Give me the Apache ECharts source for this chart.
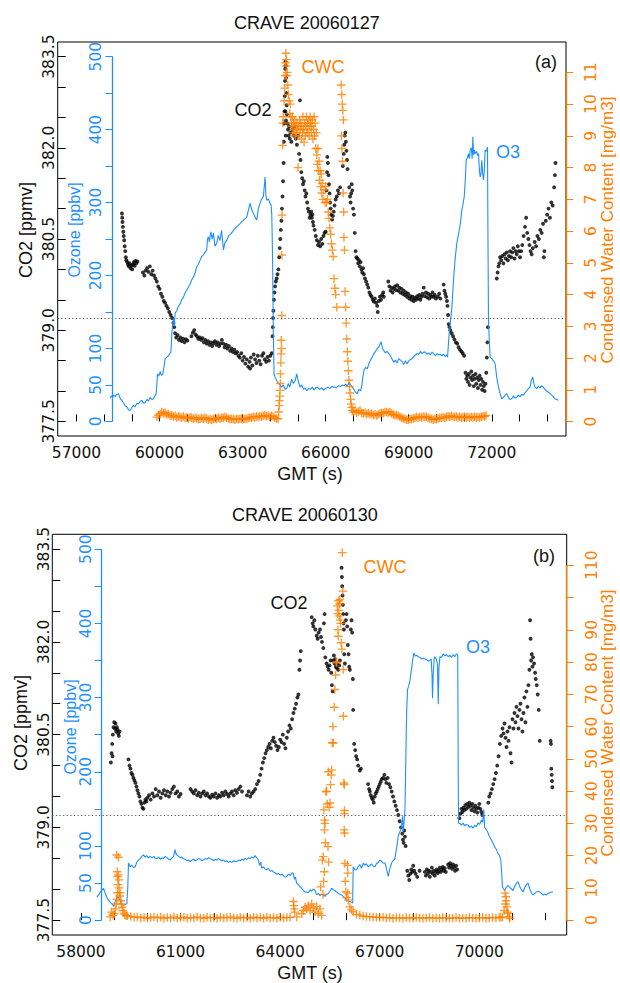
<!DOCTYPE html>
<html><head><meta charset="utf-8">
<script src="https://cdn.jsdelivr.net/npm/echarts@6/dist/echarts.min.js"></script>
<style>html,body{margin:0;padding:0;background:#fff}#c{width:620px;height:983px}</style>
</head><body><div id="c"></div>
<script>
// ---------------- DATA ----------------
// Panel (a) CRAVE 20060127 : [GMT s, value]
const co2A = [[58640,380.92],[58650,380.85],[58660,380.78],[58675,380.70],[58690,380.62],[58705,380.55],[58720,380.48],[58740,380.38],[58760,380.30],[58780,380.20],[58800,380.15],[58830,380.12],[58860,380.08],[58890,380.05],[58920,380.10],[58950,380.02],[58980,380.06],[59010,380.00],[59040,380.08],[59070,380.12],[59100,380.06],[59130,380.14],[59160,380.10],[59200,380.13],
[59400,379.95],[59450,379.90],[59500,379.98],[59550,380.02],[59600,379.96],[59650,380.05],[59700,379.92],[59750,379.98],[59800,379.90],[59850,379.85],[59900,379.80],[59950,379.72],[60000,379.68],[60050,379.60],[60100,379.55],[60150,379.48],[60200,379.45],[60250,379.40],[60300,379.36],[60350,379.30],[60400,379.25],[60450,379.20],[60500,379.12],[60530,379.05],[60560,378.95],[60600,378.88],
[60650,378.92],[60700,378.84],[60750,378.88],[60800,378.82],[60850,378.86],[60900,378.80],[60950,378.85],[61000,378.83],[61150,378.90],[61200,378.96],[61250,379.00],[61300,378.93],[61350,378.90],[61400,378.86],[61450,378.88],[61500,378.84],[61550,378.87],[61600,378.80],[61650,378.84],[61700,378.78],[61750,378.82],[61800,378.76],[61850,378.80],[61900,378.74],[61950,378.79],[62000,378.82],[62050,378.76],[62100,378.80],[62150,378.74],[62200,378.78],[62250,378.84],[62300,378.78],[62350,378.72],[62400,378.76],[62450,378.70],[62500,378.74],[62550,378.66],[62600,378.70],[62650,378.64],[62700,378.68],[62750,378.62],[62800,378.64],[62850,378.58],[62900,378.55],[62950,378.62],[63000,378.50],[63050,378.56],[63100,378.45],[63150,378.52],[63200,378.40],[63250,378.48],[63270,378.37],[63300,378.55],[63350,378.42],[63400,378.60],[63450,378.52],[63500,378.46],[63550,378.58],[63600,378.50],[63650,378.44],[63700,378.58],[63750,378.62],[63800,378.52],[63850,378.48],[63900,378.56],[63950,378.50],[64000,378.58],[64050,378.62],
[64080,378.90],[64090,379.05],[64100,379.20],[64110,379.32],[64130,379.50],[64150,379.62],[64170,379.72],[64200,379.80],[64230,379.85],[64260,379.92],[64290,380.00],[64320,380.20],[64340,380.35],[64360,380.50],[64380,380.65],[64400,380.80],[64420,381.00],[64440,381.20],[64460,381.45],
[64480,381.75],[64490,382.10],[64500,382.40],[64510,382.60],[64520,382.85],[64530,383.10],[64540,383.30],[64550,383.42],[64560,383.35],[64570,383.15],[64580,382.90],[64545,382.60],[64555,382.20],[64565,382.45],[64590,382.70],[64600,382.55],[64620,382.40],[64640,382.30],[64660,382.20],[64680,382.35],[64700,382.15],[64730,382.25],[64760,382.10],[64800,382.30],[64840,382.20],[64880,382.35],[64920,382.15],[64960,382.05],[65000,382.20],[65040,381.90],[65070,382.78],[65090,381.80],[65120,381.60],[65150,381.50],[65180,381.40],[65210,381.45],[65240,381.30],[65270,381.20],[65300,381.25],[65330,381.10],[65360,381.00],[65390,380.95],[65420,380.85],[65450,380.90],
[65480,380.95],[65500,380.85],[65520,380.90],[65540,380.78],[65560,380.72],[65600,380.65],[65640,380.55],[65680,380.48],[65720,380.40],[65760,380.45],[65800,380.38],[65840,380.50],[65880,380.42],[65920,380.55],[65960,380.60],[66000,380.62],[66030,381.30],[66050,381.60],[66060,381.85],[66080,381.75],[66100,381.55],[66120,381.40],[66140,381.25],[66160,381.10],[66180,381.00],[66200,380.90],[66230,380.82],[66260,380.88],[66290,380.95],[66320,381.05],[66360,381.15],[66400,381.20],[66440,381.30],[66480,381.25],[66520,381.35],[66620,381.70],[66650,381.90],[66670,382.05],[66690,382.20],[66710,382.25],[66730,382.10],[66750,381.95],[66770,381.80],[66790,381.65],[66850,381.35],[66880,381.20],[66900,381.10],[66920,381.25],[66940,381.40],[66960,381.30],[66990,381.00],[67020,380.90],[67050,380.60],[67080,380.30],[67110,380.20],
[67140,380.18],[67170,380.10],[67200,380.15],[67230,380.05],[67260,380.12],[67290,380.00],[67320,379.95],[67350,380.02],[67380,379.92],[67420,379.85],[67460,379.80],[67500,379.75],[67540,379.70],[67580,379.62],[67620,379.58],[67660,379.55],[67700,379.50],[67740,379.47],[67780,379.52],[67820,379.45],[67860,379.40],[67880,379.30],[67920,379.48],[67960,379.55],[68000,379.50],[68040,379.58],[68080,379.62],[68100,379.55],
[68260,379.80],[68300,379.72],[68340,379.65],[68380,379.70],[68420,379.62],[68460,379.68],[68500,379.72],[68540,379.66],[68580,379.74],[68620,379.65],[68660,379.70],[68700,379.62],[68740,379.68],[68780,379.60],[68820,379.65],[68860,379.58],[68900,379.62],[68940,379.55],[68980,379.60],[69020,379.52],[69060,379.56],[69100,379.50],[69140,379.55],[69180,379.48],[69220,379.53],[69260,379.50],[69300,379.56],[69340,379.52],[69380,379.58],[69420,379.50],[69460,379.55],[69500,379.60],[69540,379.70],[69580,379.56],[69620,379.62],[69660,379.54],[69700,379.60],[69740,379.52],[69780,379.58],[69820,379.55],[69860,379.62],[69900,379.55],[69940,379.58],[69980,379.52],[70050,379.55],[70100,379.60],[70140,379.52],
[70260,379.75],[70290,379.65],[70320,379.60],[70350,379.55],[70380,379.48],[70400,379.40],[70420,379.25],[70440,379.10],[70470,379.05],[70500,379.00],[70550,378.95],[70600,378.90],[70650,378.85],[70700,378.80],[70750,378.78],[70800,378.72],[70850,378.68],[70900,378.65],[70950,378.62],[71000,378.58],
[71050,378.30],[71080,378.20],[71110,378.25],[71140,378.15],[71170,378.28],[71200,378.10],[71230,378.22],[71260,378.32],[71290,378.18],[71320,378.25],[71350,378.08],[71380,378.20],[71410,378.28],[71440,378.12],[71470,378.22],[71500,378.05],[71530,378.18],[71560,378.25],[71590,378.10],[71620,378.20],[71650,378.02],[71680,378.15],[71710,378.08],[71740,378.00],[71770,378.12],[71800,378.30],[71820,378.55],[71840,378.80],[71860,379.05],
[72180,379.85],[72210,379.95],[72240,380.05],[72270,380.10],[72300,380.20],[72340,380.15],[72380,380.22],[72420,380.10],[72460,380.25],[72500,380.18],[72540,380.28],[72580,380.15],[72620,380.22],[72660,380.30],[72700,380.20],[72740,380.28],[72780,380.35],[72820,380.18],[72860,380.30],[72900,380.25],[72940,380.38],[72980,380.30],[73020,380.20],[73060,380.30],[73100,380.40],
[73150,380.55],[73200,380.70],[73240,380.85],[73280,380.60],[73320,380.50],[73360,380.40],[73400,380.30],[73440,380.25],[73480,380.35],[73550,380.45],[73600,380.38],[73650,380.55],[73700,380.50],[73750,380.65],[73800,380.60],[73850,380.75],[73880,380.20],[73900,380.30],[73950,380.80],[74000,380.90],[74050,381.00],[74100,380.85],[74150,381.10],[74200,381.05],[74250,381.35],[74280,381.55],[74300,381.75]];

const ozoneA = [[58217,32],[58260,35],[58300,33],[58350,36],[58400,34],[58450,37],[58517,38],[58560,33],[58600,30],[58638,29],[58700,25],[58760,21],[58818,20],[58880,16],[58938,15],[59000,19],[59059,22],[59120,20],[59180,25],[59239,24],[59300,27],[59359,29],[59420,25],[59480,26],[59540,30],[59600,28],[59660,33],[59720,30],[59780,31],[59830,35],[59877,38],[59900,50],[59925,65],[59970,62],[60021,68],[60070,63],[60117,65],[60160,75],[60201,86],[60260,88],[60322,90],[60370,93],[60406,95],[60425,105],[60442,120],[60470,132],[60502,141],[60530,132],[60562,148],[60620,152],[60680,158],[60743,161],[60800,167],[60860,170],[60920,176],[60983,180],[61040,184],[61100,188],[61160,194],[61224,198],[61280,203],[61340,212],[61400,215],[61465,221],[61520,226],[61580,228],[61640,232],[61705,235],[61730,250],[61765,253],[61800,246],[61850,260],[61900,250],[61946,258],[62000,240],[62066,244],[62120,255],[62186,248],[62240,262],[62307,235],[62360,245],[62427,248],[62500,255],[62580,257],[62668,262],[62740,265],[62820,268],[62908,271],[62980,274],[63060,277],[63149,280],[63210,290],[63269,299],[63330,290],[63389,285],[63450,280],[63510,276],[63570,292],[63630,299],[63690,305],[63750,308],[63780,322],[63810,335],[63840,310],[63871,303],[63930,305],[63991,299],[64030,296],[64051,285],[64070,250],[64087,203],[64110,120],[64135,65],[64180,60],[64231,56],[64300,52],[64350,50],[64412,47],[64470,50],[64530,44],[64592,45],[64650,52],[64700,47],[64772,58],[64833,52],[64900,56],[64953,65],[65010,55],[65073,47],[65130,50],[65200,44],[65260,46],[65314,42],[65380,45],[65450,44],[65520,47],[65580,43],[65640,46],[65700,47],[65780,44],[65850,46],[65920,43],[66000,45],[66080,47],[66150,45],[66220,48],[66300,47],[66380,46],[66460,49],[66540,48],[66600,50],[66660,49],[66720,51],[66780,48],[66840,54],[66900,50],[66960,47],[67020,44],[67080,40],[67140,38],[67200,44],[67260,42],[67300,48],[67340,60],[67380,70],[67440,74],[67500,72],[67560,79],[67620,84],[67680,88],[67740,93],[67800,96],[67860,100],[67920,102],[67960,106],[68004,109],[68050,100],[68100,97],[68160,94],[68220,96],[68280,93],[68340,90],[68400,85],[68460,81],[68520,84],[68580,80],[68640,86],[68700,84],[68760,82],[68820,78],[68880,83],[68940,79],[69000,83],[69060,85],[69120,86],[69180,89],[69240,91],[69300,93],[69360,92],[69420,96],[69480,93],[69540,95],[69600,95],[69660,92],[69720,94],[69780,91],[69840,95],[69900,93],[69960,90],[70020,93],[70080,91],[70140,92],[70200,90],[70260,92],[70320,89],[70380,91],[70404,88],[70440,111],[70500,135],[70560,157],[70620,195],[70680,225],[70740,245],[70800,257],[70860,270],[70920,290],[70960,298],[71004,308],[71040,330],[71076,358],[71120,362],[71160,367],[71190,360],[71220,372],[71260,375],[71290,360],[71316,390],[71340,365],[71370,372],[71400,367],[71450,370],[71500,364],[71520,367],[71550,345],[71580,335],[71610,340],[71640,358],[71670,340],[71700,331],[71730,345],[71760,372],[71800,370],[71844,376],[71860,260],[71880,139],[71910,110],[71940,88],[72000,86],[72060,83],[72120,79],[72180,60],[72240,47],[72300,38],[72360,31],[72420,33],[72480,36],[72540,38],[72600,33],[72660,30],[72720,31],[72780,35],[72840,32],[72900,33],[72960,36],[73020,34],[73080,37],[73140,36],[73200,39],[73260,42],[73320,45],[73380,47],[73420,55],[73476,61],[73520,52],[73560,47],[73620,45],[73680,48],[73740,46],[73800,49],[73860,47],[73920,44],[73980,42],[74040,40],[74100,38],[74160,36],[74220,34],[74280,31],[74340,30],[74400,29]];

const cwcA = [[59900,0.14],[59960,0.20],[60020,0.24],[60080,0.30],[60140,0.26],[60200,0.28],[60260,0.22],[60320,0.24],[60380,0.18],[60440,0.20],[60500,0.16],[60560,0.18],[60620,0.13],[60680,0.17],[60740,0.14],[60800,0.12],[60860,0.16],[60920,0.11],[60980,0.13],[61040,0.10],[61100,0.14],[61160,0.12],[61220,0.09],[61280,0.12],[61340,0.10],[61400,0.07],[61460,0.09],[61520,0.11],[61580,0.08],[61640,0.12],[61700,0.10],[61760,0.06],[61820,0.08],[61880,0.05],[61940,0.07],[62000,0.10],[62060,0.08],[62120,0.12],[62180,0.09],[62240,0.13],[62300,0.11],[62360,0.15],[62420,0.12],[62480,0.10],[62540,0.07],[62600,0.09],[62660,0.08],[62720,0.06],[62780,0.09],[62840,0.07],[62900,0.08],[62960,0.10],[63020,0.07],[63080,0.09],[63140,0.08],[63200,0.11],[63260,0.13],[63320,0.12],[63380,0.15],[63440,0.13],[63500,0.16],[63560,0.14],[63620,0.17],[63680,0.15],[63740,0.18],[63800,0.20],[63860,0.17],[63920,0.19],[63980,0.15],[64040,0.18],[64100,0.16],[64160,0.12],[64220,0.10],[64280,0.08],
[64300,0.30],[64320,0.50],[64330,0.66],[64340,0.80],[64350,0.98],[64360,1.20],[64365,1.50],[64380,1.85],[64390,2.13],[64395,2.56],[64405,2.30],[64412,3.34],[64415,5.24],[64424,6.50],[64440,8.70],[64450,9.40],[64470,9.60],[64500,10.10],[64520,10.50],[64540,10.90],[64550,11.30],[64560,11.60],[64570,11.20],[64580,11.40],[64590,10.90],[64610,11.00],[64630,10.60],[64650,10.30],[64680,10.10],[64700,9.70],[64720,10.00],[64740,9.60],[64760,9.40],[64780,9.30],[64800,9.60],[64820,9.10],[64840,9.40],[64860,9.20],[64880,9.50],[64900,9.00],[64920,9.30],[64940,9.10],[64960,9.40],[64980,9.20],[65000,8.00],[65020,9.30],[65040,9.00],[65060,9.50],[65080,9.20],[65100,9.40],[65120,8.90],[65140,9.30],[65160,9.10],[65180,9.60],[65200,9.20],[65220,8.80],[65240,9.40],[65260,9.00],[65280,9.30],[65300,9.60],[65320,9.10],[65340,9.40],[65360,9.20],[65380,9.50],[65400,9.00],[65420,9.30],[65440,9.60],[65460,9.40],[65480,9.10],[65500,9.30],[65520,9.50],[65540,8.90],[65560,9.20],[65580,9.60],[65600,9.00],[65620,9.40],[65640,8.60],[65660,9.10],[65680,8.40],[65700,8.10],[65720,8.60],[65740,7.90],[65760,8.20],[65780,7.60],[65800,7.90],[65820,7.40],[65840,7.80],[65860,7.20],[65880,7.50],[65900,7.00],[65940,7.30],[65980,6.90],[66000,7.40],[66030,6.90],[66060,7.00],[66090,6.60],[66120,6.40],[66150,6.10],[66180,5.90],[66210,5.60],[66240,5.40],[66270,5.20],[66300,4.50],[66330,4.20],[66360,4.00],[66400,3.60],
[66560,10.60],[66580,10.30],[66600,10.00],[66620,9.80],[66640,9.50],[66570,9.00],[66590,8.60],[66610,8.20],[66630,7.20],[66650,6.60],[66660,5.80],[66680,5.40],[66700,4.10],[66720,3.60],[66740,3.10],[66760,2.60],[66780,2.20],[66800,1.90],[66820,1.60],[66840,1.30],[66860,1.10],[66880,0.90],[66900,0.70],[66920,0.55],[66940,0.45],[66960,0.35],
[67000,0.30],[67060,0.33],[67120,0.28],[67180,0.32],[67240,0.35],[67300,0.27],[67360,0.25],[67420,0.28],[67480,0.24],[67540,0.26],[67600,0.22],[67660,0.25],[67720,0.20],[67780,0.23],[67840,0.19],[67900,0.22],[67960,0.25],[68020,0.28],[68080,0.26],[68140,0.29],[68200,0.31],[68260,0.28],[68320,0.30],[68380,0.25],[68440,0.22],[68500,0.19],[68560,0.21],[68620,0.18],[68680,0.15],[68740,0.12],[68800,0.10],[68860,0.08],[68920,0.06],[68980,0.05],[69040,0.08],[69100,0.07],[69160,0.10],[69220,0.12],[69280,0.14],[69340,0.12],[69400,0.15],[69460,0.13],[69520,0.16],[69580,0.14],[69640,0.15],[69700,0.12],[69760,0.10],[69820,0.08],[69880,0.06],[69940,0.08],[70000,0.07],[70060,0.10],[70120,0.12],[70180,0.11],[70240,0.14],[70300,0.12],[70360,0.15],[70420,0.17],[70480,0.15],[70540,0.18],[70600,0.16],[70660,0.14],[70720,0.16],[70780,0.13],[70840,0.15],[70900,0.12],[70960,0.14],[71020,0.16],[71080,0.13],[71140,0.15],[71200,0.12],[71260,0.14],[71320,0.13],[71380,0.15],[71440,0.12],[71500,0.14],[71560,0.13],[71620,0.15],[71680,0.17],[71740,0.16],[71790,0.19]];

// Panel (b) CRAVE 20060130
const co2B = [[58900,380.05],[58920,380.20],[58940,380.35],[58950,380.15],[58960,380.50],[58980,380.62],[59000,380.70],[59020,380.60],[59040,380.68],[59060,380.55],[59080,380.62],[59100,380.58],[59120,380.52],[59140,380.48],[59160,380.55],
[59430,380.10],[59460,380.00],[59490,379.95],[59520,379.88],[59550,379.85],[59580,379.80],[59610,379.76],[59640,379.72],[59670,379.66],[59700,379.60],[59730,379.55],[59760,379.50],[59790,379.42],[59820,379.38],[59850,379.32],[59880,379.30],[59910,379.40],[59940,379.45],[59970,379.42],[60000,379.48],[60050,379.52],[60100,379.45],[60150,379.55],[60200,379.50],[60250,379.62],[60300,379.52],[60350,379.58],[60400,379.48],[60450,379.55],[60500,379.60],[60550,379.52],[60600,379.58],[60650,379.50],[60700,379.56],[60750,379.62],[60800,379.66],[60850,379.55],[60900,379.58],[60950,379.50],[61000,379.54],
[61300,379.62],[61350,379.58],[61400,379.55],[61450,379.60],[61500,379.52],[61550,379.56],[61600,379.50],[61650,379.55],[61700,379.58],[61750,379.52],[61800,379.55],[61850,379.50],[61900,379.48],[61950,379.53],[62000,379.50],[62050,379.55],[62100,379.48],[62150,379.52],[62200,379.50],[62250,379.56],[62300,379.52],[62350,379.58],[62400,379.54],[62450,379.50],[62500,379.55],[62550,379.58],[62600,379.52],[62650,379.60],[62700,379.56],[62750,379.62],[62800,379.66],[62850,379.58],
[63000,379.52],[63050,379.58],[63100,379.50],[63150,379.55],[63200,379.58],[63250,379.62],[63300,379.70],[63350,379.75],[63400,379.85],[63440,379.95],[63480,380.05],[63520,380.12],[63560,380.20],[63600,380.25],[63640,380.30],[63680,380.35],[63720,380.28],[63760,380.40],[63800,380.45],[63840,380.38],[63880,380.32],[63920,380.25],[63960,380.30],[64000,380.42],[64040,380.38],[64080,380.50],[64120,380.35],[64160,380.28],[64200,380.45],[64240,380.55],[64280,380.65],[64320,380.60],[64360,380.75],[64400,380.85],[64440,380.92],[64480,381.00],[64520,381.10],[64550,381.15],[64580,381.55],[64600,381.70],[64620,381.85],
[64950,382.40],[64980,382.30],[65000,382.25],[65030,382.35],[65060,382.20],[65100,382.10],[65130,382.05],[65160,382.15],[65200,382.20],[65230,382.08],[65260,382.00],[65300,381.90],[65320,382.30],[65340,382.45],[65360,381.75],[65400,381.65],[65430,381.60],[65460,381.55],[65490,381.62],[65520,381.70],[65540,381.50],[65560,381.30],[65580,381.20],[65600,381.70],[65620,381.78],[65640,381.65],[65660,381.72],[65680,381.60],[65700,381.58],[65720,381.65],[65750,381.55],[65780,381.62],[65800,381.70],
[65850,383.20],[65860,383.05],[65870,382.90],[65880,382.75],[65890,382.60],[65900,382.45],[65910,382.30],[65920,382.20],[65930,381.80],[65950,381.65],[65980,382.35],[66000,382.45],[66020,382.25],[66040,381.95],[66060,381.80],[66080,381.60],[66100,381.55],[66130,382.20],[66150,382.35],[66170,382.15],[66190,381.40],[66200,380.90],[66230,380.35],[66260,380.25],[66290,380.15],[66320,380.10],[66350,380.00],[66400,379.92],[66430,379.95],
[66650,379.70],[66680,379.62],[66700,379.58],[66730,379.52],[66760,379.48],[66790,379.45],[66820,379.40],[66850,379.50],[66880,379.55],[66910,379.58],[66940,379.62],[66970,379.66],[67000,379.70],[67030,379.74],[67060,379.78],[67100,379.80],[67140,379.85],[67170,379.78],[67200,379.72],[67240,379.80],[67280,379.70],[67320,379.65],[67360,379.58],[67400,379.50],[67440,379.42],[67480,379.35],[67520,379.28],[67560,379.20],[67600,379.10],[67640,379.00],[67680,378.90],[67700,378.80],[67720,378.75],[67740,378.95],[67760,378.85],[67780,378.70],
[67830,378.30],[67860,378.22],[67890,378.15],[67920,378.25],[67950,378.32],[67980,378.28],[68010,378.38],[68040,378.30],[68080,378.25],[68130,378.20],[68200,378.30],[68360,378.28],[68390,378.22],[68420,378.32],[68450,378.25],[68480,378.30],[68510,378.20],[68540,378.28],[68570,378.35],[68600,378.25],[68630,378.30],[68660,378.22],[68690,378.28],[68720,378.32],[68750,378.26],[68780,378.30],[68810,378.35],[68840,378.28],[68870,378.32],[68900,378.36],[68930,378.30],[68960,378.34],[68990,378.28],[69060,378.40],[69090,378.35],[69120,378.42],[69150,378.38],[69180,378.33],[69210,378.40],[69240,378.36],[69270,378.30],[69300,378.38],[69330,378.32],
[69400,379.15],[69430,379.22],[69460,379.30],[69490,379.25],[69520,379.32],[69550,379.28],[69580,379.36],[69610,379.30],[69640,379.38],[69670,379.33],[69700,379.40],[69730,379.35],[69760,379.28],[69790,379.38],[69820,379.32],[69850,379.26],[69880,379.35],[69910,379.30],[69940,379.24],[69970,379.32],[70000,379.38],[70030,379.30],[70060,379.25],[70090,379.20],
[70270,379.40],[70300,379.50],[70340,379.55],[70380,379.62],[70420,379.70],[70460,379.78],[70500,379.88],[70540,380.00],[70580,380.15],[70620,380.35],[70660,380.48],[70700,380.60],[70730,380.52],[70760,380.68],[70790,380.45],[70820,380.30],[70850,380.55],[70880,380.40],[70910,380.62],[70940,380.20],[70970,380.05],[71000,380.75],[71030,380.60],[71060,380.85],[71090,380.70],[71120,380.95],[71150,380.80],[71180,380.60],[71210,380.90],[71240,381.00],[71270,380.75],[71300,380.55],[71330,380.85],[71360,381.10],[71390,380.70],[71420,381.20],[71450,380.95],[71480,381.30],[71510,381.55],[71530,382.35],[71545,382.05],[71560,381.70],[71580,381.80],[71600,381.60],[71620,381.75],[71650,381.65],[71680,381.50],[71700,381.40],[71730,381.30],[71760,381.15],[71790,380.90],[71820,380.40],
[72150,380.40],[72160,380.35],[72170,379.95],[72180,379.85],[72190,379.75],[72200,379.65]];

const ozoneB = [[58480,31],[58530,34],[58580,38],[58629,40],[58679,43],[58730,36],[58779,31],[58830,27],[58880,24],[58930,22],[58980,19],[59030,25],[59080,30],[59130,31],[59180,26],[59230,22],[59281,20],[59330,21],[59381,22],[59410,45],[59431,77],[59481,72],[59530,74],[59580,71],[59631,72],[59680,78],[59730,81],[59782,83],[59830,86],[59882,88],[59930,85],[59980,87],[60030,84],[60083,86],[60140,84],[60200,86],[60240,83],[60284,83],[60340,85],[60400,82],[60440,84],[60484,83],[60540,86],[60600,84],[60640,82],[60685,81],[60740,84],[60790,86],[60836,95],[60860,90],[60886,88],[60940,86],[61000,84],[61040,85],[61086,83],[61140,82],[61200,80],[61240,81],[61287,79],[61340,81],[61400,82],[61440,80],[61487,81],[61540,83],[61600,82],[61640,80],[61688,81],[61740,83],[61800,82],[61840,84],[61889,83],[61940,82],[62000,80],[62040,82],[62089,81],[62140,83],[62200,81],[62240,80],[62290,81],[62340,79],[62400,80],[62440,78],[62491,79],[62540,78],[62600,80],[62640,79],[62691,79],[62740,81],[62800,80],[62840,82],[62892,81],[62940,83],[63000,82],[63050,84],[63093,83],[63140,85],[63200,84],[63243,87],[63300,84],[63343,81],[63380,74],[63420,78],[63444,70],[63500,72],[63540,69],[63594,68],[63640,70],[63700,66],[63750,67],[63795,65],[63850,64],[63900,62],[63950,63],[63995,61],[64050,62],[64100,60],[64150,58],[64196,59],[64250,62],[64300,60],[64350,64],[64396,63],[64430,55],[64460,58],[64497,50],[64550,48],[64600,45],[64647,43],[64700,40],[64750,38],[64797,38],[64850,37],[64900,41],[64950,39],[65000,42],[65050,40],[65100,34],[65150,36],[65200,33],[65250,35],[65301,34],[65350,32],[65400,35],[65451,36],[65500,39],[65552,43],[65600,41],[65650,40],[65702,38],[65750,36],[65800,35],[65853,34],[65900,32],[65950,30],[66003,27],[66050,26],[66100,25],[66150,24],[66184,23],[66200,72],[66250,68],[66304,68],[66350,72],[66400,75],[66450,70],[66505,77],[66550,74],[66600,76],[66650,72],[66706,74],[66750,76],[66800,73],[66856,72],[66900,76],[66960,78],[67006,81],[67060,79],[67100,77],[67156,77],[67200,70],[67257,59],[67300,68],[67357,77],[67400,80],[67457,83],[67500,95],[67557,113],[67600,118],[67628,122],[67660,128],[67688,140],[67710,120],[67738,135],[67760,150],[67788,221],[67810,280],[67838,311],[67870,315],[67909,322],[67930,330],[67959,338],[67990,350],[68030,360],[68070,356],[68110,357],[68160,355],[68210,354],[68260,352],[68311,353],[68360,352],[68410,351],[68460,349],[68511,350],[68550,352],[68575,330],[68591,299],[68610,330],[68640,352],[68662,355],[68700,352],[68740,345],[68762,291],[68785,340],[68812,355],[68860,354],[68912,359],[68960,356],[69010,358],[69060,355],[69113,357],[69160,354],[69210,358],[69260,355],[69313,359],[69350,357],[69365,200],[69373,131],[69420,130],[69470,128],[69514,131],[69560,127],[69600,129],[69664,128],[69710,125],[69760,127],[69814,124],[69860,128],[69910,126],[69965,131],[70010,129],[70065,135],[70100,132],[70135,149],[70160,125],[70216,122],[70260,118],[70300,113],[70366,108],[70420,103],[70470,98],[70517,95],[70560,90],[70600,88],[70617,86],[70650,80],[70680,60],[70697,45],[70730,42],[70767,40],[70810,44],[70868,47],[70920,44],[70970,42],[71018,40],[71070,46],[71120,50],[71168,52],[71220,45],[71270,41],[71319,38],[71370,44],[71420,48],[71470,50],[71520,42],[71570,37],[71620,34],[71670,36],[71720,38],[71770,39],[71820,38],[71870,36],[71920,34],[71970,35],[72021,34],[72070,36],[72120,37],[72170,38],[72222,38]];

const cwcB = [[58880,1.0],[58920,2.5],[58960,1.5],[59000,2.0],[59030,3.5],[59060,5.0],[59076,20.2],[59080,6.5],[59090,15.0],[59095,13.5],[59100,8.5],[59110,11.0],[59120,14.0],[59130,19.5],[59140,12.5],[59150,10.0],[59160,7.5],[59180,8.5],[59200,6.0],[59220,5.0],[59240,4.0],[59260,3.0],[59290,2.2],[59320,1.7],[59360,1.4],
[59400,1.4],[59500,1.1],[59600,0.9],[59700,1.0],[59800,0.7],[59900,0.9],[60000,0.6],[60100,0.8],[60200,1.0],[60300,0.7],[60400,0.9],[60500,0.6],[60600,0.8],[60700,0.7],[60800,1.0],[60900,0.6],[61000,0.8],[61100,0.9],[61200,0.6],[61300,0.8],[61400,0.7],[61500,1.0],[61600,0.7],[61700,0.6],[61800,0.9],[61900,0.7],[62000,0.8],[62100,0.6],[62200,0.9],[62300,0.7],[62400,0.8],[62500,1.0],[62600,0.7],[62700,0.6],[62800,0.9],[62900,0.7],[63000,0.8],[63100,0.6],[63200,0.9],[63300,0.7],[63400,0.8],[63500,0.6],[63600,0.9],[63700,0.7],[63800,0.8],[63900,0.6],[64000,0.9],[64100,0.7],[64200,0.8],[64300,0.9],
[64400,5.8],[64410,4.5],[64420,3.5],[64440,2.5],[64500,1.0],[64650,2.0],[64700,3.0],[64750,4.0],[64800,3.5],[64850,4.5],[64900,3.0],[64950,5.0],[65000,3.8],[65050,2.5],[65100,4.2],[65150,2.0],[65200,3.5],[65250,1.5],
[65220,10.3],[65270,18.6],[65290,8.0],[65300,19.7],[65310,12.0],[65320,34.2],[65330,15.0],[65335,28.0],[65340,31.0],[65350,30.0],[65360,24.0],[65380,39.8],[65400,40.0],[65420,36.0],[65440,22.8],[65450,46.0],[65460,18.0],[65480,35.0],[65500,36.3],[65520,42.0],[65540,45.0],[65550,46.6],[65570,55.0],[65590,60.0],[65600,54.9],[65630,66.0],[65650,71.5],[65670,76.0],[65690,80.0],[65700,79.8],[65720,97.4],[65730,95.0],[65740,90.0],[65750,88.0],[65760,99.0],[65770,96.0],[65780,94.3],[65790,98.0],[65800,99.4],[65810,93.0],[65820,92.0],[65840,86.0],[65860,84.0],[65872,113.9],[65890,102.0],[65900,77.7],[65905,63.2],[65920,42.5],[65930,28.0],[65932,42.0],[65935,33.0],[65938,27.0],[65940,34.0],[65950,17.6],[65960,12.0],[65980,8.8],[66000,7.0],[66030,17.0],[66035,14.6],[66040,8.4],[66050,6.2],[66100,4.1],[66150,3.2],[66200,2.6],[66300,1.8],[66400,1.55],[66500,1.3],[66600,1.1],[66700,1.0],
[66800,1.0],[66900,0.9],[67000,0.8],[67100,0.9],[67200,0.7],[67300,0.8],[67400,0.6],[67500,0.8],[67600,0.7],[67700,0.6],[67800,0.8],[67900,0.7],[68000,0.6],[68100,0.8],[68200,0.7],[68300,0.6],[68400,0.7],[68500,0.8],[68600,0.6],[68700,0.7],[68800,0.6],[68900,0.8],[69000,0.7],[69100,0.6],[69200,0.7],[69300,0.8],[69400,0.6],[69500,0.7],[69600,0.6],[69700,0.8],[69800,0.7],[69900,0.6],[70000,0.7],[70100,0.8],[70200,0.6],[70300,0.7],[70400,0.8],[70500,0.7],[70600,0.9],[70650,0.8],
[70700,1.0],[70750,3.0],[70775,8.4],[70790,5.0],[70800,7.25],[70810,6.0],[70830,4.1],[70850,2.5],[70870,2.1],[70900,1.0],[70920,0.5]];

// Axis ticks / labels
const xTicksA = [57000,58000,59000,60000,61000,62000,63000,64000,65000,66000,67000,68000,69000,70000,71000,72000,73000,74000];
const xLabelsA = [57000,60000,63000,66000,69000,72000];
const xTicksB = [58000,59000,60000,61000,62000,63000,64000,65000,66000,67000,68000,69000,70000,71000,72000];
const xLabelsB = [58000,61000,64000,67000,70000];
const co2Ticks = [377.5,378,378.5,379,379.5,380,380.5,381,381.5,382,382.5,383,383.5];
const co2Labels = [377.5,379.0,380.5,382.0,383.5];
const ozTicks = [0,50,100,150,200,250,300,350,400,450,500];
const ozLabels = [0,50,100,200,300,400,500];
const cwcTicksA = [0,1,2,3,4,5,6,7,8,9,10,11];
const cwcLabelsA = [0,1,2,3,4,5,6,7,8,9,10,11];
const cwcTicksB = [0,10,20,30,40,50,60,70,80,90,100,110];
const cwcLabelsB = [0,10,20,30,40,50,60,70,80,90,110];
const co2Background = 379.2;
const ozAxisXA = 58300, ozAxisXB = 58620;

// ---------------- CHART ----------------
const BLUE = '#1E90FF', ORANGE = '#FF8000', INK = '#111';
const TICKFONT = 'DejaVu Sans', TXTFONT = 'Liberation Sans';
const PLUS = 'path://M0,4.2L4.2,4.2L4.2,0L5.8,0L5.8,4.2L10,4.2L10,5.8L5.8,5.8L5.8,10L4.2,10L4.2,5.8L0,5.8Z';

const panels = [
  {grid:{left:57.7, top:42, width:508.3, height:394}, xmin:56320, xmax:74680, xt:xTicksA, xl:xLabelsA,
   cwcMin:-0.455, cwcMax:11.955, ct:cwcTicksA, cl:cwcLabelsA, cwcTop:11, ozX:ozAxisXA, ozMargin:9, co2Margin:1,
   co2:co2A, oz:ozoneA, cwc:cwcA},
  {grid:{left:52.3, top:534.3, width:514.4, height:400.7}, xmin:57135, xmax:72633, xt:xTicksB, xl:xLabelsB,
   cwcMin:-4.6, cwcMax:119.6, ct:cwcTicksB, cl:cwcLabelsB, cwcTop:110, ozX:ozAxisXB, ozMargin:8, co2Margin:0,
   co2:co2B, oz:ozoneB, cwc:cwcB}
];

const grid=[], xAxis=[], yAxis=[], series=[];
panels.forEach((p,i)=>{
  grid.push(Object.assign({show:true, borderColor:'#000', borderWidth:1, backgroundColor:'transparent'}, p.grid));
  xAxis.push({type:'value', gridIndex:i, min:p.xmin, max:p.xmax, axisLine:{show:false}, splitLine:{show:false},
    axisTick:{show:true, inside:true, length:7, customValues:p.xt, lineStyle:{color:'#000', width:1}},
    axisLabel:{show:true, customValues:p.xl, margin:9, color:INK, fontSize:15.5, fontFamily:TICKFONT, formatter:v=>String(v)}});
  const ozOffset = -(p.ozX - p.xmin)/(p.xmax - p.xmin)*p.grid.width;
  yAxis.push({type:'value', gridIndex:i, position:'left', min:377.26, max:383.74, axisLine:{show:false}, splitLine:{show:false},
    axisTick:{show:true, inside:true, length:8, customValues:co2Ticks, lineStyle:{color:'#000', width:1}},
    axisLabel:{show:true, customValues:co2Labels, rotate:90, margin:p.co2Margin, color:INK, fontSize:15.5, fontFamily:TICKFONT, formatter:v=>v.toFixed(1)}});
  yAxis.push({type:'value', gridIndex:i, position:'left', offset:ozOffset, min:-20, max:520, axisLine:{show:false}, splitLine:{show:false},
    axisTick:{show:true, inside:false, length:7, customValues:ozTicks, lineStyle:{color:BLUE, width:1}},
    axisLabel:{show:true, customValues:ozLabels, rotate:90, margin:p.ozMargin, color:BLUE, fontSize:15.5, fontFamily:TICKFONT, formatter:v=>String(v)}});
  yAxis.push({type:'value', gridIndex:i, position:'right', min:p.cwcMin, max:p.cwcMax, axisLine:{show:false}, splitLine:{show:false},
    axisTick:{show:true, inside:false, length:7, customValues:p.ct, lineStyle:{color:ORANGE, width:1}},
    axisLabel:{show:true, customValues:p.cl, rotate:90, margin:17, color:ORANGE, fontSize:15.5, fontFamily:TICKFONT, formatter:v=>String(v)}});
  const yb = i*3;
  series.push({type:'scatter', xAxisIndex:i, yAxisIndex:yb, data:p.co2, symbol:'circle', symbolSize:3.9, itemStyle:{color:'#000'}, silent:true, z:2,
    markLine:{silent:true, symbol:['none','none'], label:{show:false}, lineStyle:{color:'#555', type:[1.2,2.4], width:1}, emphasis:{disabled:true}, data:[{yAxis:co2Background}]}});
  series.push({type:'line', xAxisIndex:i, yAxisIndex:yb+1, data:p.oz, showSymbol:false, symbol:'none', lineStyle:{color:BLUE, width:1.1}, silent:true, z:3,
    markLine:{silent:true, symbol:['none','none'], label:{show:false}, lineStyle:{color:BLUE, width:1.3, type:'solid'}, emphasis:{disabled:true},
      data:[[{coord:[p.ozX,0]},{coord:[p.ozX,500]}]]}});
  series.push({type:'scatter', xAxisIndex:i, yAxisIndex:yb+2, data:p.cwc, symbol:PLUS, symbolSize:8.5, itemStyle:{color:ORANGE}, silent:true, clip:false, z:4,
    markLine:{silent:true, symbol:['none','none'], label:{show:false}, lineStyle:{color:ORANGE, width:1.4, type:'solid'}, emphasis:{disabled:true},
      data:[[{coord:[p.xmax,0]},{coord:[p.xmax,p.cwcTop]}]]}});
});

function txt(t, x, y, size, color, rot){
  return {type:'text', x:x, y:y, rotation:rot||0, silent:true, z:100,
    style:{text:t, fill:color, font:size+'px "'+TXTFONT+'"', align:'center', verticalAlign:'middle', textAlign:'center', textVerticalAlign:'middle'}};
}
const R = Math.PI/2;
const graphic = [
  txt('CRAVE 20060127', 307, 23, 18, INK),
  txt('CO2 [ppmv]', 26, 230, 18, INK, R),
  txt('Ozone [ppbv]', 74, 230, 16, BLUE, R),
  txt('Condensed Water Content [mg/m3]', 607, 230, 17, ORANGE, R),
  txt('GMT (s)', 310, 474, 18, INK),
  txt('CO2', 253, 110, 18, INK),
  txt('CWC', 323, 67, 18, ORANGE),
  txt('O3', 508, 152, 18, BLUE),
  txt('(a)', 546, 62, 18, INK),
  txt('CRAVE 20060130', 305, 515, 18, INK),
  txt('CO2 [ppmv]', 21, 723, 18, INK, R),
  txt('Ozone [ppbv]', 70, 727, 16, BLUE, R),
  txt('Condensed Water Content [mg/m3]', 607, 723, 17, ORANGE, R),
  txt('GMT (s)', 310, 973, 18, INK),
  txt('CO2', 289, 603, 18, INK),
  txt('CWC', 385, 567, 18, ORANGE),
  txt('O3', 478, 647, 18, BLUE),
  txt('(b)', 544, 556, 18, INK)
];

const chart = echarts.init(document.getElementById('c'), null, {renderer:'svg'});
chart.setOption({animation:false, backgroundColor:'#fff', grid, xAxis, yAxis, series, graphic});
</script>
</body></html>
